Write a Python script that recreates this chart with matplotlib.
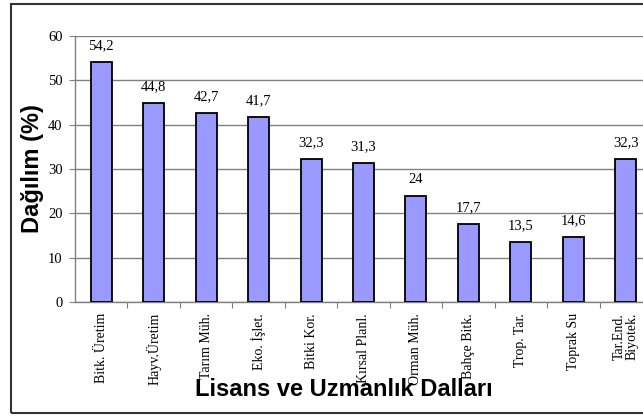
import matplotlib
matplotlib.use("Agg")
import matplotlib.pyplot as plt
from matplotlib.patches import Rectangle

# Lisans ve uzmanlik dallarina gore dagilim (%)
dallar = ['Bitk. Üretim', 'Hayv.Üretim', 'Tarım Müh.', 'Eko. İşlet.', 'Bitki Kor.',
          'Kırsal Planl.', 'Orman Müh.', 'Bahçe Bitk.', 'Trop. Tar.', 'Toprak Su',
          'Tar.End.\nBiyotek.']
dagilim = [54.2, 44.8, 42.7, 41.7, 32.3, 31.3, 24, 17.7, 13.5, 14.6, 32.3]
yticks = [0, 10, 20, 30, 40, 50, 60]

W, H = 643, 416
SERIF = 'Liberation Serif'
SANS = 'Liberation Sans'

fig = plt.figure(figsize=(W / 100, H / 100), dpi=100)
fig.patch.set_facecolor('white')

# plot area runs a bit past the right edge, as in the cropped original
ax = fig.add_axes([75 / W, 1 - 302 / H, (652 - 75) / W, (302 - 36) / H])

xs = range(len(dallar))
ax.bar(xs, dagilim, width=0.4, color='#9999ff', edgecolor='black', linewidth=1.3, zorder=3)

for x, v in zip(xs, dagilim):
    lab = ('%g' % v).replace('.', ',')
    ax.annotate(lab, (x, v), xytext=(0, 7), textcoords='offset points',
                ha='center', va='bottom', fontsize=10.5, family=SERIF)

ax.set_xlim(-0.5, len(dallar) - 0.5)
ax.set_ylim(0, 60)
ax.set_yticks(yticks)
ax.set_yticklabels([str(t) for t in yticks], family=SERIF, fontsize=10.5)

# ticks sit between the categories
ax.set_xticks([i + 0.5 for i in range(len(dallar) - 1)])
ax.set_xticklabels([])
ax.set_xticks(list(xs), minor=True)
ax.set_xticklabels(dallar, minor=True, rotation=90, family=SERIF, fontsize=10,
                   va='top', ha='center', linespacing=0.95)
ax.tick_params(axis='x', which='minor', length=0, pad=8)
ax.tick_params(axis='x', which='major', length=4, color='#808080', direction='out')
ax.tick_params(axis='y', length=4, color='#808080', pad=5)

ax.yaxis.grid(True, color='#808080', linewidth=1, zorder=0)
ax.set_axisbelow(True)
for s in ['top', 'right']:
    ax.spines[s].set_visible(False)
for s in ['left', 'bottom']:
    ax.spines[s].set_color('#808080')
    ax.spines[s].set_linewidth(1)

fig.text(33 / W, 1 - 169 / H, 'Dağılım (%)', rotation=90, ha='center', va='center',
         fontsize=17, fontweight='bold', family=SANS)
fig.text(344 / W, 1 - 396 / H, 'Lisans ve Uzmanlık Dalları', ha='center', va='baseline',
         fontsize=17, fontweight='bold', family=SANS)

# outer chart frame
fig.patches.append(Rectangle((11 / W, 1 - 413 / H), 1.0, (413 - 4) / H,
                             transform=fig.transFigure, fill=False,
                             edgecolor='#333333', linewidth=1.5))

fig.savefig('out.png', dpi=100)
